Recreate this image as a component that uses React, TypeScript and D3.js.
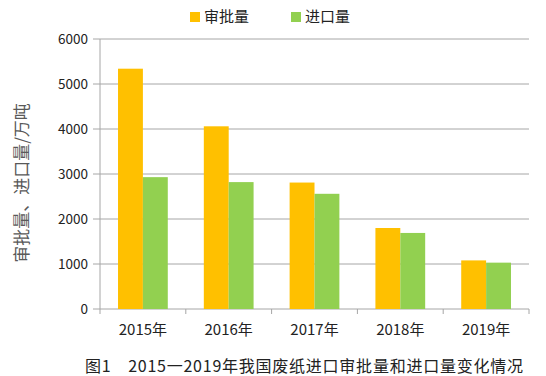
import React from "react";
import * as d3 from "d3";

const categories = ["2015年", "2016年", "2017年", "2018年", "2019年"];
const seriesNames = ["审批量", "进口量"];
const approved = [5340, 4060, 2810, 1800, 1080];
const imported = [2930, 2820, 2560, 1690, 1030];
const yTicks = [0, 1000, 2000, 3000, 4000, 5000, 6000];
const colors = ["#FFC000", "#92D050"];
const yTitle = "审批量、进口量/万吨";
const caption = "图1　2015一2019年我国废纸进口审批量和进口量变化情况";

const W = 546;
const H = 376;
const left = 100;
const right = 529;
const top = 39;
const bottom = 309;
const font = "'Noto Sans CJK SC', 'Open Sans', sans-serif";

export default function App() {
  const x = d3.scaleBand<string>().domain(categories).range([left, right]).paddingInner(0).paddingOuter(0);
  const bw = x.bandwidth();
  const barW = bw * 0.29;
  const y = d3.scaleLinear().domain([0, 6000]).range([bottom, top]);
  const series = [approved, imported];
  const gridColor = "#a6a6a6";

  return (
    <svg width={W} height={H} style={{ position: "absolute", left: 0, top: 0, background: "#fff" }}>
      {/* gridlines */}
      {yTicks.map((t) => (
        <line key={"g" + t} x1={left - 7} x2={right} y1={y(t)} y2={y(t)} stroke={gridColor} strokeWidth={1} />
      ))}
      {/* y axis */}
      <line x1={left} x2={left} y1={top} y2={bottom} stroke={gridColor} strokeWidth={1} />
      {/* x ticks */}
      {categories.concat([""]).map((c, i) => {
        const xx = left + i * bw;
        return <line key={"xt" + i} x1={xx} x2={xx} y1={bottom} y2={bottom + 5} stroke={gridColor} strokeWidth={1} />;
      })}
      {/* bars */}
      {categories.map((c, i) => {
        const cx = (x(c) as number) + bw / 2;
        return series.map((s, j) => (
          <rect
            key={c + j}
            x={cx - barW + j * barW}
            y={y(s[i])}
            width={barW}
            height={bottom - y(s[i])}
            fill={colors[j]}
          />
        ));
      })}
      {/* y tick labels */}
      {yTicks.map((t) => (
        <text key={"yl" + t} x={left - 12} y={y(t)} dy="0.35em" textAnchor="end" fontSize={13.5} fontFamily={font} fill="#222">
          {t}
        </text>
      ))}
      {/* x labels */}
      {categories.map((c) => (
        <text key={"xl" + c} x={(x(c) as number) + bw / 2} y={330} dy="0.35em" textAnchor="middle" fontSize={15} fontFamily={font} fill="#222">
          {c}
        </text>
      ))}
      {/* y title */}
      <text
        transform={`translate(22, 183) rotate(-90)`}
        textAnchor="middle"
        dy="0.35em"
        fontSize={17}
        fontFamily={font}
        fill="#595959"
      >
        {yTitle}
      </text>
      {/* legend */}
      {seriesNames.map((n, j) => {
        const lx = 190 + j * 101;
        return (
          <g key={"lg" + n}>
            <rect x={lx} y={12} width={10} height={10} fill={colors[j]} />
            <text x={lx + 14} y={17} dy="0.35em" fontSize={15} fontFamily={font} fill="#222">
              {n}
            </text>
          </g>
        );
      })}
      {/* caption */}
      <text x={85} y={366} dy="0.35em" textAnchor="start" fontSize={16} textLength={438} lengthAdjust="spacing" fontFamily={font} fill="#222">
        {caption}
      </text>
    </svg>
  );
}
